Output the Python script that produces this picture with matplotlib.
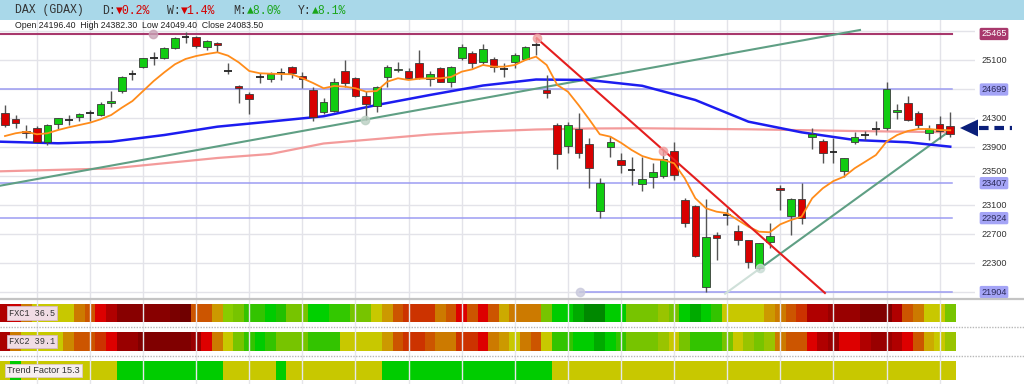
import matplotlib
matplotlib.use("Agg")
import matplotlib.pyplot as plt
from matplotlib.patches import Polygon
from matplotlib.transforms import blended_transform_factory, offset_copy
import numpy as np

plt.rcParams["font.family"] = ["Liberation Sans", "DejaVu Sans"]

# daily candles, oldest first
opens = [24380, 24295, 24125, 24170, 23970, 24220, 24290, 24320, 24375, 24345,
         24510, 24680, 24905, 25005, 25135, 25130, 25265, 25425, 25430, 25290,
         25345, 24955, 24750, 24640, 24875, 24845, 24920, 25005, 24885, 24690,
         24385, 24400, 24960, 24855, 24610, 24470, 24875, 24970, 24955, 25060,
         24840, 24990, 24805, 25140, 25200, 25085, 25120, 24980, 25075, 25120,
         25310, 24690, 24210, 23925, 24150, 23945, 23020, 23910, 23725, 23600,
         23395, 23495, 23510, 23850, 23175, 23095, 21980, 22690, 22965, 22745,
         22620, 22230, 22590, 23345, 22960, 23190, 24040, 23995, 23830, 23575,
         23970, 24070, 24150, 24165, 24395, 24510, 24370, 24095, 24220, 24196.4]
highs = [24485, 24345, 24210, 24195, 24225, 24310, 24345, 24380, 24410, 24520,
         24680, 24885, 24970, 25140, 25210, 25285, 25430, 25495, 25440, 25385,
         25360, 25070, 24760, 24670, 24920, 24945, 25000, 25025, 24940, 24740,
         24585, 24860, 25105, 24875, 24680, 24745, 25035, 25075, 24990, 25245,
         24955, 25015, 25025, 25325, 25230, 25325, 25150, 25060, 25205, 25305,
         25430, 24900, 24240, 24255, 24370, 24035, 23475, 24060, 23825, 23765,
         23765, 23680, 23865, 23980, 23200, 23105, 23190, 22735, 23060, 22830,
         22625, 22580, 22855, 23380, 23200, 23405, 24165, 24010, 24025, 23760,
         24110, 24125, 24270, 24800, 24500, 24615, 24400, 24210, 24340, 24382.3]
lows = [24180, 24170, 24030, 23970, 23935, 24155, 24210, 24265, 24265, 24335,
        24460, 24645, 24830, 24990, 25035, 25115, 25255, 25335, 25275, 25240,
        25220, 24910, 24510, 24355, 24785, 24800, 24830, 24855, 24715, 24265,
        24355, 24385, 24740, 24600, 24280, 24395, 24740, 24945, 24840, 24840,
        24750, 24800, 24740, 25105, 24990, 25045, 24945, 24875, 24990, 25105,
        25175, 24575, 23600, 23820, 23760, 23345, 22930, 23770, 23540, 23380,
        23300, 23345, 23475, 23450, 22805, 22390, 21904, 22345, 22830, 22555,
        22230, 22205, 22515, 23035, 22690, 22840, 23880, 23680, 23690, 23495,
        23945, 24000, 24070, 24140, 24290, 24265, 24165, 24000, 24015, 24049.4]
closes = [24210, 24240, 24095, 23980, 24210, 24300, 24285, 24355, 24380, 24500,
          24545, 24865, 24910, 25130, 25140, 25265, 25415, 25430, 25305, 25370,
          25315, 24950, 24715, 24565, 24870, 24910, 24925, 24930, 24840, 24325,
          24530, 24800, 24795, 24615, 24495, 24730, 25015, 24985, 24860, 24860,
          24915, 24805, 25005, 25280, 25060, 25260, 25005, 24985, 25175, 25290,
          25315, 24645, 23805, 24210, 23825, 23610, 23415, 23980, 23655, 23595,
          23460, 23565, 23735, 23520, 22855, 22405, 22670, 22655, 22970, 22620,
          22325, 22575, 22680, 23310, 23185, 22930, 24085, 23825, 23835, 23750,
          24050, 24075, 24155, 24705, 24415, 24280, 24210, 24150, 24125, 24083.5]

# moving averages
ma_fast = [24057, 24095, 24117, 24081, 24095, 24140, 24177, 24209, 24241, 24288,
           24347, 24448, 24540, 24678, 24816, 24936, 25047, 25120, 25161, 25189,
           25212, 25166, 25074, 24954, 24923, 24917, 24913, 24909, 24854, 24789,
           24716, 24748, 24738, 24716, 24669, 24678, 24807, 24854, 24830, 24848,
           24854, 24854, 24872, 24945, 24978, 25037, 25014, 25014, 25037, 25106,
           25152, 25037, 24761, 24669, 24485, 24288, 24081, 24048, 23964, 23864,
           23781, 23736, 23726, 23681, 23474, 23198, 23060, 23013, 22991, 22898,
           22806, 22737, 22729, 22839, 22898, 22944, 23198, 23336, 23436, 23496,
           23612, 23703, 23795, 23979, 24071, 24126, 24154, 24154, 24140, 24136]
ma_mid_idx = [-0.5, 5, 10, 15, 20, 25, 30, 35, 40, 45, 50, 55, 60, 65, 70, 75, 80, 85, 89]
ma_mid = [23979, 23957, 23979, 24071, 24186, 24257, 24330, 24485, 24623, 24754,
          24837, 24830, 24750, 24554, 24255, 24108, 24002, 23971, 23910]
ma_slow_idx = [-0.5, 10, 20, 25, 30, 35, 40, 45, 50, 55, 60, 70, 80, 89]
ma_slow = [23570, 23609, 23754, 23809, 23954, 24016, 24078, 24120, 24147, 24161,
           24164, 24150, 24126, 24109]

# horizontal levels and trend lines
levels = [25465, 24699, 23407, 22924, 21904]
level_start = [-0.47, -0.47, -0.47, -0.47, 54.1]
tick_vals = [25100, 24300, 23900, 23500, 23100, 22700, 22300]
trend_up_idx = [-0.47, 80.5]
trend_up = [23371, 25520]
trend_low_idx = [71.1, 89.3]
trend_low = [22232, 24164]
trend_low_ext_idx = [67.8, 71.1]
trend_low_ext = [21881, 22232]
trend_down_idx = [50.07, 77.2]
trend_down = [25406, 21891]
anchor_idx = [13.9, 33.9, 54.1, 50.07, 62.0, 71.1]
anchor_val = [25465, 24283, 21904, 25406, 23850, 22232]
anchor_col = ["#c9a3b6", "#b9cfc2", "#c9c9dc", "#f2a0a0", "#f2a0a0", "#c9ddd5"]

# indicator bands (colour runs per candle)
fxc1_runs = [("#b00000", 1), ("#cc0000", 1), ("#cc7a00", 1), ("#c8c800", 4), ("#cc7a00", 1),
             ("#cc5500", 1), ("#dd0000", 1), ("#b00000", 1), ("#880000", 5), ("#7a0000", 1),
             ("#700000", 1), ("#cc5500", 2), ("#cc9900", 1), ("#88cc00", 1), ("#77c400", 1),
             ("#33c400", 2), ("#00cc00", 1), ("#22c000", 1), ("#77c400", 2), ("#00d000", 2),
             ("#33c800", 2), ("#77c400", 2), ("#c8c800", 1), ("#cc9900", 1), ("#cc5500", 1),
             ("#cc3300", 3), ("#cc7a00", 1), ("#cc5500", 1), ("#dd0000", 1), ("#cc5500", 1),
             ("#dd0000", 1), ("#cc5500", 1), ("#ccaa00", 1), ("#cc7a00", 3), ("#77c400", 1),
             ("#00cc00", 2), ("#00aa00", 1), ("#008800", 2), ("#00cc00", 2), ("#77c400", 3),
             ("#99c400", 1), ("#77c400", 1), ("#00cc00", 1), ("#00aa00", 1), ("#00cc00", 1),
             ("#33c400", 1), ("#c8c800", 4), ("#cc9900", 1), ("#cc7a00", 1), ("#cc5500", 1),
             ("#cc3300", 1), ("#b00000", 2), ("#990000", 3), ("#800000", 3), ("#b00000", 1),
             ("#cc5500", 1), ("#cc7a00", 1), ("#c8c800", 2), ("#77c400", 1)]
fxc2_runs = [("#aa0000", 1), ("#cc7a00", 1), ("#c8c800", 4), ("#cc8800", 1), ("#cc5500", 2),
             ("#cc3300", 1), ("#dd0000", 1), ("#990000", 2), ("#800000", 5), ("#990000", 1),
             ("#dd0000", 1), ("#cc7a00", 1), ("#c8c800", 1), ("#77c400", 1), ("#33c400", 1),
             ("#00cc00", 1), ("#33c400", 1), ("#77c400", 3), ("#33c400", 3), ("#c8c800", 4),
             ("#cc9900", 1), ("#cc5500", 1), ("#cc3300", 2), ("#cc5500", 1), ("#cc7a00", 2),
             ("#cc3300", 2), ("#dd0000", 1), ("#cc7a00", 1), ("#cc9900", 1), ("#c8c800", 1),
             ("#cc7a00", 1), ("#cc5500", 1), ("#c8c800", 1), ("#33c400", 2), ("#00cc00", 2),
             ("#00aa00", 1), ("#00cc00", 1), ("#33c400", 1), ("#77c400", 3), ("#99c400", 1),
             ("#c8c800", 1), ("#77c400", 1), ("#33c400", 3), ("#77c400", 1), ("#c8c800", 1),
             ("#99c400", 1), ("#77c400", 1), ("#99c400", 1), ("#cc7a00", 1), ("#cc5500", 2),
             ("#dd0000", 1), ("#b00000", 1), ("#990000", 1), ("#dd0000", 2), ("#b00000", 1),
             ("#990000", 2), ("#b00000", 1), ("#dd0000", 1), ("#cc5500", 1), ("#ccaa00", 1),
             ("#c8c800", 1), ("#99c400", 1)]
trend_runs = [("#c8c800", 1), ("#00cc00", 1), ("#c8c800", 9), ("#00cc00", 10), ("#c8c800", 5),
              ("#00cc00", 1), ("#c8c800", 9), ("#00cc00", 16), ("#c8c800", 38)]

title_parts = [(15, "DAX (GDAX)", "#333333"), (102, "D:", "#333333"), (116, "\u25bc0.2%", "#d40000"),
               (167, "W:", "#333333"), (181, "\u25bc1.4%", "#d40000"), (233, "M:", "#333333"),
               (247, "\u25b28.0%", "#1aa51a"), (298, "Y:", "#333333"), (312, "\u25b28.1%", "#1aa51a")]
ohlc_text = "Open 24196.40  High 24382.30  Low 24049.40  Close 24083.50"


def expand(runs):
    out = []
    for col, n in runs:
        out += [col] * n
    return out


W, H = 1024, 384
fig = plt.figure(figsize=(W / 100, H / 100), dpi=100)
fig.patch.set_facecolor("white")

n = len(closes)
idx = np.arange(n)
xlim = (-0.47, 91.33)
mono = ["Liberation Mono", "DejaVu Sans Mono"]

# ---- main price panel
ax = fig.add_axes([0, (H - 298) / H, 975 / W, (298 - 20) / H])
ax.set_xlim(*xlim)
ax.set_ylim(21822, 25658)
ax.set_xticks(range(3, n, 5))
ax.set_yticks(range(21900, 25600, 400))
ax.grid(color="#e3e3e9", lw=1)
ax.tick_params(length=0, labelleft=False, labelbottom=False)
for s in ax.spines.values():
    s.set_visible(False)

for lv, st in zip(levels, level_start):
    col = "#a8386c" if lv == levels[0] else "#9c9cf2"
    ax.plot([st, 89.2], [lv, lv], color=col, lw=1.5 if lv == levels[0] else 1.1, zorder=2)

ax.plot(ma_slow_idx, ma_slow, color="#f28a8a", lw=1.6, alpha=0.85, zorder=2)
ax.plot(trend_up_idx, trend_up, color="#5f9f84", lw=1.5, zorder=2)
ax.plot(trend_low_ext_idx, trend_low_ext, color="#cfe0d9", lw=1.5, zorder=2)
ax.plot(trend_low_idx, trend_low, color="#5f9f84", lw=1.5, zorder=2)
ax.plot(ma_mid_idx, ma_mid, color="#1c1cf0", lw=1.8, zorder=2)

o = np.array(opens, float)
c = np.array(closes, float)
ax.vlines(idx, lows, highs, color="#555555", lw=1, zorder=3)
doji = np.abs(c - o) <= 10
body = ~doji
ax.bar(idx[body], np.abs(c - o)[body], bottom=np.minimum(o, c)[body], width=0.72,
       color=np.where(c > o, "#11cc11", "#d80000")[body], edgecolor="#3a3a3a", lw=0.6, zorder=4)
ax.hlines(c[doji], idx[doji] - 0.36, idx[doji] + 0.36, color="#222222", lw=1.3, zorder=4)

ax.plot(idx, ma_fast, color="#ff8c1a", lw=1.3, zorder=5)
ax.plot(trend_down_idx, trend_down, color="#e41e1e", lw=1.5, zorder=5)
for xi, yv, col in zip(anchor_idx, anchor_val, anchor_col):
    ax.plot(xi, yv, "o", ms=6, color=col, alpha=0.8, zorder=6)

tr = blended_transform_factory(ax.transAxes, ax.transData)
for v in tick_vals:
    # labels sitting right on top of a level box are nudged up a little
    near = min(abs(v - lv) for lv in levels) < 130
    t = offset_copy(tr, fig=fig, y=3.5 if near else 0, units="points")
    ax.text(994 / 975, v, str(v), transform=t, ha="center", va="center",
            fontsize=6.6, color="#333333", clip_on=False)
for lv in levels:
    first = lv == levels[0]
    ax.text(994 / 975, lv, str(lv), transform=tr, ha="center", va="center",
            fontsize=6.6, color="white" if first else "#2a2a5a", clip_on=False, zorder=7,
            bbox=dict(boxstyle="round,pad=0.18", fc="#a8386c" if first else "#a4a4f6", ec="none"))

# ---- indicator bands
ind = fig.add_axes([0, 0, 975 / W, (H - 298) / H])
ind.set_xlim(*xlim)
ind.set_ylim(H, 298)
ind.axis("off")
ind.vlines(range(3, n, 5), 298, H, color="#e6e6ea", lw=1)
ind.bar(idx, 17.5, bottom=304, width=1.0, color=expand(fxc1_runs), lw=0)
ind.bar(idx, 18.5, bottom=332, width=1.0, color=expand(fxc2_runs), lw=0)
ind.bar(idx, 19.5, bottom=360.5, width=1.0, color=expand(trend_runs), lw=0)

# ---- overlay in pixel units: header, separators, labels, arrow
ov = fig.add_axes([0, 0, 1, 1])
ov.set_xlim(0, W)
ov.set_ylim(H, 0)
ov.axis("off")
ov.add_patch(plt.Rectangle((0, 0), W, 20, fc="#a9d8e9", ec="none"))
ov.plot([0, W], [299, 299], color="#c4c4c4", lw=1.6)
ov.plot([0, W], [326.5, 326.5], color="#b8b8b8", lw=1, ls=(0, (1, 1)))
ov.plot([0, W], [355.5, 355.5], color="#b8b8b8", lw=1, ls=(0, (1, 1)))
for xp, txt, col in title_parts:
    ov.text(xp, 10.5, txt, color=col, fontsize=8.3, family=mono, va="center")
ov.text(15, 25, ohlc_text, fontsize=6.3, color="#222222", va="center")

band_box = dict(boxstyle="square,pad=0.25", fc="#f0dce4", ec="#d6b8c6", lw=0.6)
ov.text(9, 313, "FXC1 36.5", fontsize=6.2, family=mono, color="#333333", va="center", bbox=band_box)
ov.text(9, 341.5, "FXC2 39.1", fontsize=6.2, family=mono, color="#333333", va="center", bbox=band_box)
ov.text(7, 370.5, "Trend Factor 15.3", fontsize=6.6, color="#333333", va="center",
        bbox=dict(boxstyle="square,pad=0.25", fc="#f6eeee", ec="#dcc8c8", lw=0.6))

ov.plot([979, 1012], [128, 128], color="#0b1f7a", lw=3, dashes=(2.3, 1.4))
ov.add_patch(Polygon([[960, 128], [978, 119.5], [978, 136.5]], closed=True, fc="#0b1f7a", ec="none"))

fig.savefig("out.png", dpi=100)
